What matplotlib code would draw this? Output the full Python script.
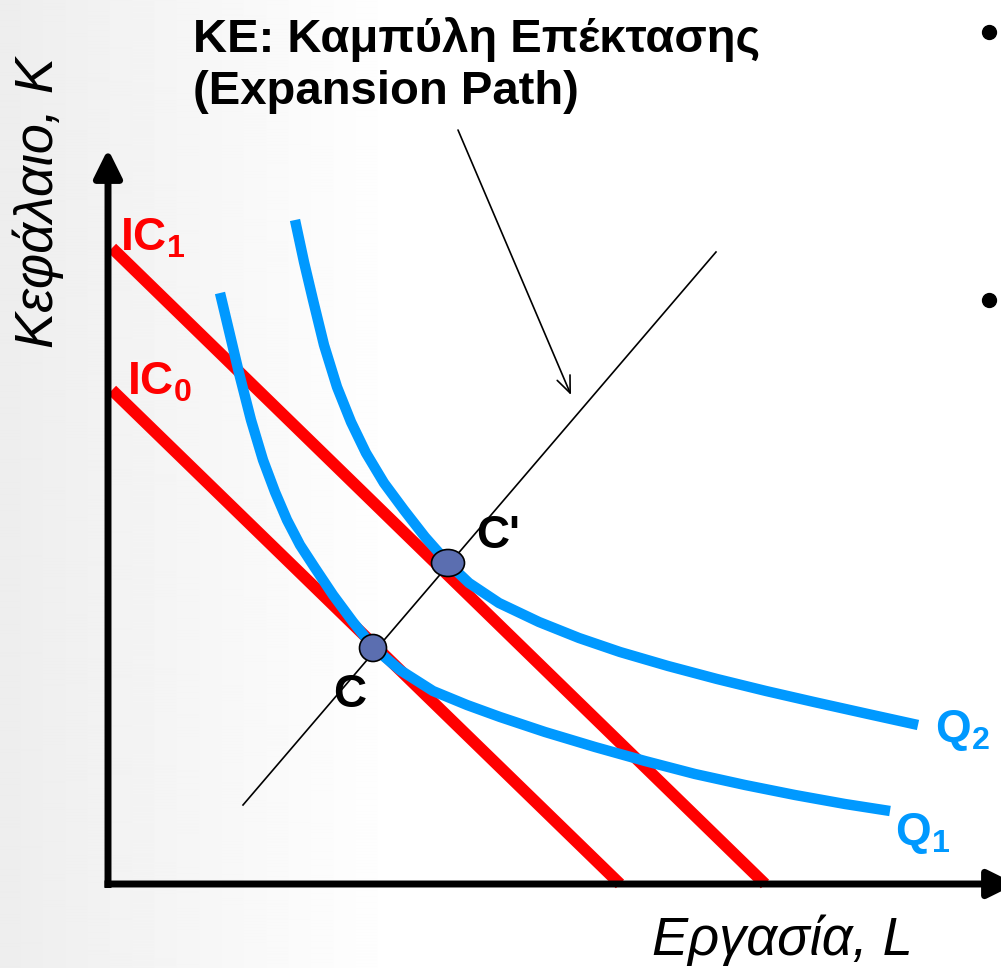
#! /usr/bin/env python3

import numpy as np
import matplotlib
matplotlib.use('Agg')
import matplotlib.pyplot as plt
from matplotlib.patches import Ellipse

# ========================================= #
# expansion path: isocost + isoquant chart  #
# ========================================= #

plt.rcParams['font.family'] = ['Liberation Sans', 'DejaVu Sans']
plt.rcParams['mathtext.fontset'] = 'custom'
plt.rcParams['mathtext.rm'] = 'Liberation Sans'
plt.rcParams['mathtext.bf'] = 'Liberation Sans:bold'
plt.rcParams['mathtext.it'] = 'Liberation Sans:italic'

# ========================================= #
# DATA (L = labour, K = capital)            #
# ========================================= #

ic1_L = [0.04, 6.57]
ic1_K = [6.36, 0.00]
ic0_L = [0.04, 5.12]
ic0_K = [4.94, 0.00]

q1_L = [1.12, 1.22, 1.31, 1.43, 1.55, 1.67, 1.79, 1.92, 2.07, 2.25, 2.45, 2.66,
        2.92, 3.25, 3.59, 3.92, 4.37, 4.87, 5.37, 5.87, 6.37, 6.87, 7.37, 7.82]
q1_K = [5.91, 5.49, 5.11, 4.64, 4.24, 3.92, 3.64, 3.39, 3.16, 2.89, 2.62, 2.36,
        2.14, 1.93, 1.79, 1.67, 1.52, 1.37, 1.23, 1.10, 0.99, 0.89, 0.80, 0.73]

q2_L = [1.87, 1.96, 2.05, 2.16, 2.29, 2.43, 2.58, 2.76, 2.96, 3.17, 3.40, 3.61,
        3.91, 4.31, 4.71, 5.12, 5.60, 6.09, 6.58, 7.06, 7.60, 8.10]
q2_K = [6.64, 6.22, 5.84, 5.39, 4.97, 4.62, 4.31, 4.01, 3.74, 3.47, 3.21, 3.01,
        2.81, 2.62, 2.46, 2.32, 2.18, 2.05, 1.93, 1.82, 1.70, 1.59]

path_L = [1.35, 6.08]
path_K = [0.79, 6.32]

pts_L = [2.65, 3.40]
pts_K = [2.36, 3.21]
pts_w = [0.27, 0.33]
pts_lab = ['C', "C'"]

bullet_L = [8.81, 8.81]
bullet_K = [8.52, 5.84]

title1 = 'KE: Καμπύλη Επέκτασης'
title2 = '(Expansion Path)'
xlab   = 'Εργασία, L'
ylab   = 'Κεφάλαιο, K'

red  = '#ff0000'
blue = '#0099ff'

# ========================================= #
# PLOT                                      #
# ========================================= #

fig = plt.figure(figsize=(10.01,9.68),dpi=100)
ax  = fig.add_axes([0,0,1,1])
ax.set_xlim(-1.08,8.93)
ax.set_ylim(-0.84,8.84)
ax.axis('off')

# faint slide background
grad = np.clip(0.93+0.07*np.linspace(0,1,1001)/0.4,0,1)
ax.imshow(np.tile(grad,(10,1)),cmap='gray',vmin=0,vmax=1,aspect='auto',
          extent=(-1.08,8.93,-0.84,8.84),zorder=0,interpolation='bilinear')

# axes with arrow heads
astyle = '-|>,head_length=0.85,head_width=0.42'
ax.annotate('',xy=(0,7.35),xytext=(0,-0.04),annotation_clip=False,
            arrowprops=dict(arrowstyle=astyle,lw=5,color='k',capstyle='butt',
                            mutation_scale=20,shrinkA=0,shrinkB=0),
            zorder=5)
ax.annotate('',xy=(9.08,0),xytext=(-0.035,0),annotation_clip=False,
            arrowprops=dict(arrowstyle=astyle,lw=5,color='k',capstyle='butt',
                            mutation_scale=20,shrinkA=0,shrinkB=0),
            zorder=5)

# isocost lines
ax.plot(ic1_L,ic1_K,color=red,lw=8.5,solid_capstyle='butt',zorder=2)
ax.plot(ic0_L,ic0_K,color=red,lw=8.5,solid_capstyle='butt',zorder=2)

# isoquants
ax.plot(q1_L,q1_K,color=blue,lw=7.5,solid_capstyle='butt',
        solid_joinstyle='round',zorder=3)
ax.plot(q2_L,q2_K,color=blue,lw=7.5,solid_capstyle='butt',
        solid_joinstyle='round',zorder=3)

# expansion path
ax.plot(path_L,path_K,color='k',lw=1.2,zorder=4)
ax.annotate('',xy=(4.63,4.89),xytext=(3.50,7.54),
            arrowprops=dict(arrowstyle='->,head_length=0.6,head_width=0.25',
                            lw=1.2,color='k',mutation_scale=20,shrinkA=0,shrinkB=0))

# tangency points
for i in range(len(pts_L)):
  e = Ellipse((pts_L[i],pts_K[i]),pts_w[i],0.27,facecolor='#5b6eb0',
              edgecolor='k',lw=1.2,zorder=6)
  ax.add_patch(e)

fs = 33
ax.text(2.25,1.77,pts_lab[0],fontsize=fs,fontweight='bold',va='baseline')
ax.text(3.68,3.36,pts_lab[1],fontsize=fs,fontweight='bold',va='baseline')

ax.text(0.12,6.34,r'$\mathbf{IC_1}$',fontsize=fs,color=red,va='baseline')
ax.text(0.19,4.89,r'$\mathbf{IC_0}$',fontsize=fs,color=red,va='baseline')
ax.text(8.27,1.42,r'$\mathbf{Q_2}$',fontsize=fs,color=blue,va='baseline')
ax.text(7.87,0.39,r'$\mathbf{Q_1}$',fontsize=fs,color=blue,va='baseline')

ax.text(0.85,8.32,title1,fontsize=34,fontweight='bold',va='baseline')
ax.text(0.85,7.80,title2,fontsize=34,fontweight='bold',va='baseline')
ax.text(6.74,-0.56,xlab,fontsize=39,style='italic',ha='center',va='center')
ax.text(-0.70,6.82,ylab,fontsize=39,style='italic',rotation=90,
        ha='center',va='center')

ax.plot(bullet_L,bullet_K,'o',color='k',ms=10,zorder=6)

plt.savefig('out.png',dpi=100)
